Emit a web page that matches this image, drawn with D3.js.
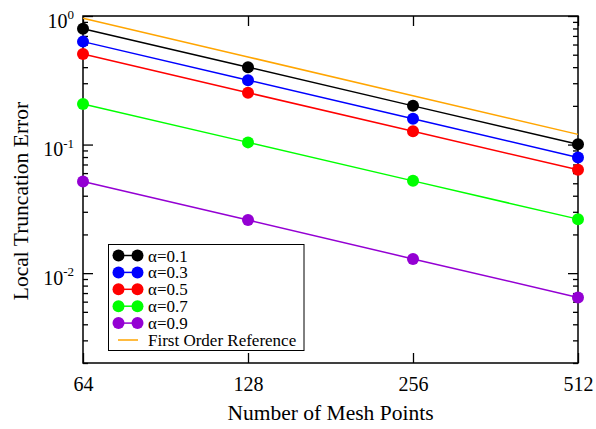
<!DOCTYPE html>
<html>
<head>
<meta charset="utf-8">
<script src="https://cdn.jsdelivr.net/npm/d3@7"></script>
<style>
  body { margin: 0; background: #fff; }
  text { font-family: "Liberation Serif", "Times New Roman", serif; fill: #000; }
</style>
</head>
<body>
<script>
var w = 596;
var h = 429;

// data
var meshPoints = [64, 128, 256, 512];
var alphaLabels = ["α=0.1", "α=0.3", "α=0.5", "α=0.7", "α=0.9"];
var alphaColors = ["#000000", "#0000ff", "#ff0000", "#00ff00", "#9400d3"];
var err01 = [0.795, 0.40, 0.200, 0.1005];
var err03 = [0.632, 0.317, 0.159, 0.0794];
var err05 = [0.506, 0.253, 0.127, 0.0636];
var err07 = [0.207, 0.104, 0.0522, 0.0263];
var err09 = [0.0516, 0.0259, 0.0129, 0.00647];
var firstOrder = [0.96, 0.48, 0.24, 0.12];
var refLabel = "First Order Reference";
var yMajor = [1, 0.1, 0.01];
var yExponents = ["0", "-1", "-2"];
var yMinor = [];
[0.1, 0.01, 0.001].forEach(function(d) {
  for (var k = 2; k <= 9; k++) yMinor.push(d * k);
});

var series = [err01, err03, err05, err07, err09];

// plot box (don't call these top/left, window.top is read only)
var pL = 83, pR = 578, pT = 16, pB = 363;

var x = d3.scaleLog().base(2).domain([64, 512]).range([pL, pR]);
var y = d3.scaleLog().domain([0.002, 1]).range([pB, pT]);

var svg = d3.select("body")
  .append("svg")
  .attr("width", w)
  .attr("height", h);

// x axis, ticks pointing in
var xb = svg.append("g")
  .attr("transform", "translate(0," + pB + ")")
  .call(d3.axisBottom(x).tickValues(meshPoints).tickFormat(d3.format("d")).tickSize(-10).tickPadding(14));
xb.select(".domain").remove();
xb.selectAll("text").attr("font-size", 20).attr("font-family", "Liberation Serif").attr("dy", "0.71em");
var xt = svg.append("g")
  .attr("transform", "translate(0," + pT + ")")
  .call(d3.axisTop(x).tickValues(meshPoints).tickFormat("").tickSize(-10));
xt.select(".domain").remove();

// y axis majors and minors, both sides
[[pL, d3.axisLeft], [pR, d3.axisRight]].forEach(function(s) {
  var gM = svg.append("g").attr("transform", "translate(" + s[0] + ",0)")
    .call(s[1](y).tickValues(yMajor).tickFormat("").tickSize(-10));
  gM.select(".domain").remove();
  var gm = svg.append("g").attr("transform", "translate(" + s[0] + ",0)")
    .call(s[1](y).tickValues(yMinor).tickFormat("").tickSize(-5));
  gm.select(".domain").remove();
});
svg.selectAll(".tick line").attr("stroke", "#000").attr("stroke-width", 1.3);

// y tick labels 10^n
var yl = svg.selectAll(".ylab")
  .data(yMajor)
  .enter()
  .append("text")
  .attr("class", "ylab")
  .attr("text-anchor", "end")
  .attr("x", 74)
  .attr("y", function(d) { return y(d) + 11.5; })
  .attr("font-size", 20);
yl.append("tspan").text("10");
yl.append("tspan")
  .attr("font-size", 13)
  .attr("dy", -8.5)
  .text(function(d, i) { return yExponents[i]; });

// frame
svg.append("rect")
  .attr("x", pL).attr("y", pT)
  .attr("width", pR - pL).attr("height", pB - pT)
  .attr("fill", "none").attr("stroke", "#000").attr("stroke-width", 1.5);

var line = d3.line()
  .x(function(d, i) { return x(meshPoints[i]); })
  .y(function(d) { return y(d); });

svg.append("path")
  .attr("d", line(firstOrder))
  .attr("fill", "none")
  .attr("stroke", "#ffa500")
  .attr("stroke-width", 1.5);

series.forEach(function(s, k) {
  svg.append("path")
    .attr("d", line(s))
    .attr("fill", "none")
    .attr("stroke", alphaColors[k])
    .attr("stroke-width", 1.5);
  svg.selectAll(".dot" + k)
    .data(s)
    .enter()
    .append("circle")
    .attr("cx", function(d, i) { return x(meshPoints[i]); })
    .attr("cy", function(d) { return y(d); })
    .attr("r", 6)
    .attr("fill", alphaColors[k]);
});

// legend
var lg = svg.append("g");
lg.append("rect")
  .attr("x", 108.5).attr("y", 244.5)
  .attr("width", 195.5).attr("height", 106)
  .attr("fill", "#fff").attr("stroke", "#000").attr("stroke-width", 1);
alphaLabels.forEach(function(lab, k) {
  var yy = 255.5 + k * 16.9;
  lg.append("line").attr("x1", 118.5).attr("x2", 137.5).attr("y1", yy).attr("y2", yy)
    .attr("stroke", alphaColors[k]).attr("stroke-width", 1.5);
  lg.append("circle").attr("cx", 118.5).attr("cy", yy).attr("r", 6).attr("fill", alphaColors[k]);
  lg.append("circle").attr("cx", 137.5).attr("cy", yy).attr("r", 6).attr("fill", alphaColors[k]);
  lg.append("text").attr("x", 148).attr("y", yy + 6).attr("font-size", 17).text(lab);
});
var ry = 255.5 + 5 * 16.9;
lg.append("line").attr("x1", 118).attr("x2", 138).attr("y1", ry).attr("y2", ry)
  .attr("stroke", "#ffa500").attr("stroke-width", 1.5);
lg.append("text").attr("x", 148).attr("y", ry + 6).attr("font-size", 17).text(refLabel);

// axis titles
svg.append("text")
  .attr("x", (pL + pR) / 2)
  .attr("y", 420)
  .attr("text-anchor", "middle")
  .attr("font-size", 21.5)
  .text("Number of Mesh Points");
svg.append("text")
  .attr("transform", "translate(28,201) rotate(-90)")
  .attr("text-anchor", "middle")
  .attr("font-size", 21.5)
  .text("Local Truncation Error");
</script>
</body>
</html>
